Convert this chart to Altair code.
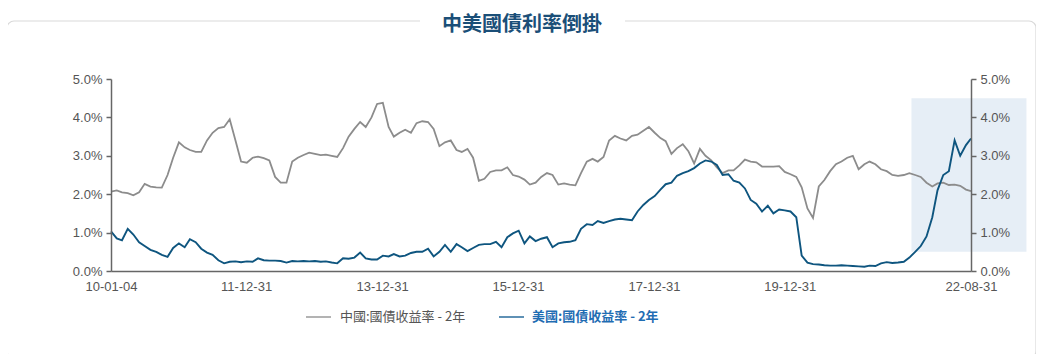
import altair as alt
import pandas as pd

# ---- data (monthly, %) ----
china = [2.07, 2.10, 2.05, 2.03, 1.97, 2.05, 2.27, 2.20, 2.18, 2.17,
         2.50, 2.95, 3.35, 3.22, 3.15, 3.10, 3.10, 3.40, 3.60, 3.72,
         3.75, 3.95, 3.40, 2.85, 2.82, 2.95, 2.98, 2.94, 2.88, 2.45,
         2.30, 2.30, 2.85, 2.95, 3.02, 3.08, 3.05, 3.02, 3.03, 3.00,
         2.97, 3.20, 3.50, 3.70, 3.88, 3.75, 4.00, 4.35, 4.38, 3.75,
         3.50, 3.60, 3.68, 3.60, 3.85, 3.90, 3.88, 3.70, 3.25, 3.35,
         3.40, 3.15, 3.10, 3.18, 2.95, 2.35, 2.40, 2.58, 2.62, 2.62,
         2.70, 2.50, 2.46, 2.38, 2.25, 2.30, 2.45, 2.55, 2.50, 2.25,
         2.28, 2.25, 2.23, 2.55, 2.85, 2.92, 2.85, 2.97, 3.40, 3.52,
         3.45, 3.40, 3.52, 3.55, 3.65, 3.75, 3.60, 3.46, 3.38, 3.05,
         3.20, 3.30, 3.12, 2.80, 3.18, 3.00, 2.88, 2.70, 2.55, 2.62,
         2.62, 2.75, 2.90, 2.85, 2.83, 2.72, 2.72, 2.72, 2.73, 2.58,
         2.52, 2.45, 2.18, 1.63, 1.38, 2.20, 2.37, 2.60, 2.78, 2.85,
         2.95, 3.00, 2.65, 2.78, 2.85, 2.78, 2.65, 2.60, 2.50, 2.48,
         2.50, 2.55, 2.50, 2.45, 2.30, 2.20, 2.28, 2.30, 2.24, 2.25,
         2.22, 2.12, 2.08]

us = [1.03, 0.85, 0.80, 1.10, 0.95, 0.75, 0.65, 0.55, 0.50, 0.42,
      0.37, 0.60, 0.72, 0.62, 0.83, 0.75, 0.58, 0.48, 0.42, 0.28,
      0.20, 0.24, 0.25, 0.23, 0.25, 0.24, 0.33, 0.28, 0.27, 0.27,
      0.26, 0.22, 0.26, 0.25, 0.26, 0.25, 0.26, 0.24, 0.25, 0.22,
      0.20, 0.33, 0.32, 0.35, 0.48, 0.33, 0.30, 0.30, 0.40, 0.38,
      0.44, 0.38, 0.40, 0.47, 0.50, 0.50, 0.58, 0.38, 0.50, 0.68,
      0.50, 0.70, 0.62, 0.52, 0.60, 0.68, 0.70, 0.70, 0.76, 0.62,
      0.88, 0.98, 1.05, 0.72, 0.90, 0.78, 0.84, 0.88, 0.62, 0.72,
      0.75, 0.76, 0.80, 1.10, 1.22, 1.20, 1.30, 1.25, 1.30, 1.34,
      1.36, 1.34, 1.32, 1.55, 1.72, 1.85, 1.95, 2.12, 2.26, 2.30,
      2.48, 2.55, 2.60, 2.68, 2.80, 2.88, 2.85, 2.76, 2.50, 2.52,
      2.35, 2.30, 2.15, 1.85, 1.75, 1.55, 1.70, 1.50, 1.60, 1.58,
      1.55, 1.40, 0.40, 0.22, 0.18, 0.17, 0.15, 0.14, 0.14, 0.15,
      0.14, 0.13, 0.12, 0.11, 0.14, 0.13, 0.20, 0.23, 0.21, 0.22,
      0.24, 0.35, 0.50, 0.65, 0.90, 1.40, 2.10, 2.50, 2.60, 3.40,
      3.00, 3.28, 3.45]

dates = [pd.Timestamp(2010, 1, 4) + pd.DateOffset(months=i) for i in range(152)] + [pd.Timestamp(2022, 8, 31)]

series_names = ["中國:國債收益率 - 2年", "美國:國債收益率 - 2年"]
x_tick_dates = [(2010, 1, 4), (2011, 12, 31), (2013, 12, 31), (2015, 12, 31),
                (2017, 12, 31), (2019, 12, 31), (2022, 8, 31)]
y_ticks = [0.0, 0.01, 0.02, 0.03, 0.04, 0.05]
highlight_x = ["2021-10-15", "2023-06-25"]
highlight_y = [0.005, 0.045]
title_text = "中美國債利率倒掛"

df_cn = pd.DataFrame({"date": dates, "value": [v / 100 for v in china]})
df_us = pd.DataFrame({"date": dates, "value": [v / 100 for v in us]})
df_hl = pd.DataFrame({"x": [pd.Timestamp(highlight_x[0])], "x2": [pd.Timestamp(highlight_x[1])],
                      "y": [highlight_y[0]], "y2": [highlight_y[1]]})

GREY = "#8c8c8c"
BLUE = "#0e557f"
FONT = "Liberation Sans"
CJK = "Noto Sans CJK TC"

x_scale = alt.Scale(domain=[alt.DateTime(year=2010, month=1, date=4),
                            alt.DateTime(year=2022, month=8, date=31)])
y_scale = alt.Scale(domain=[0, 0.05], nice=False)

x_vals = [alt.DateTime(year=a, month=b, date=c) for a, b, c in x_tick_dates]

axis_common = dict(labelFont=FONT, labelFontSize=13, labelColor="#555", domainColor="#666",
                   domainWidth=1.5, tickColor="#666", tickWidth=1.5, title=None, grid=False, zindex=1)

x_axis = alt.Axis(values=x_vals, format="%y-%m-%d", ticks=False, labelPadding=9,
                  labelFlush=False, labelOverlap=False, **axis_common)
y_left = alt.Axis(values=y_ticks, format=".1%", orient="left", tickSize=5, labelPadding=4, **axis_common)
y_right = alt.Axis(values=y_ticks, format=".1%", orient="right", tickSize=5, labelPadding=4, **axis_common)

# decoration: panel border, gap behind title, title
one = pd.DataFrame({"t": [title_text]})
border = alt.Chart(one).mark_rect(fill="transparent", stroke="#d9d9d9", strokeWidth=1.2,
                                  cornerRadius=7, clip=False).encode(
    x=alt.value(-104), x2=alt.value(925), y=alt.value(-58), y2=alt.value(279))
gap = alt.Chart(one).mark_rect(fill="white", clip=False).encode(
    x=alt.value(309), x2=alt.value(514), y=alt.value(-63), y2=alt.value(-53))
title = alt.Chart(one).mark_text(font=CJK, fontSize=20, fontWeight="bold", color="#1b4f78",
                                 align="center", baseline="middle").encode(
    x=alt.value(411), y=alt.value(-54), text="t:N")

hl = alt.Chart(df_hl).mark_rect(color="#e6eef6", clip=False).encode(
    x=alt.X("x:T", scale=x_scale, axis=None), x2="x2:T",
    y=alt.Y("y:Q", scale=y_scale, axis=None), y2="y2:Q")

line_cn = alt.Chart(df_cn).mark_line(color=GREY, strokeWidth=1.8).encode(
    x=alt.X("date:T", scale=x_scale, axis=x_axis),
    y=alt.Y("value:Q", scale=y_scale, axis=y_left))
line_us = alt.Chart(df_us).mark_line(color=BLUE, strokeWidth=1.9).encode(
    x=alt.X("date:T", scale=x_scale, axis=None),
    y=alt.Y("value:Q", scale=y_scale, axis=None))
right_axis = alt.Chart(df_us).mark_line(opacity=0).encode(
    x=alt.X("date:T", scale=x_scale, axis=None),
    y=alt.Y("value:Q", scale=y_scale, axis=y_right))

# custom legend
leg_cn = pd.DataFrame({"t": [series_names[0]]})
leg_us = pd.DataFrame({"t": [series_names[1]]})
leg_line_cn = alt.Chart(leg_cn).mark_rule(color="#9a9a9a", strokeWidth=1.5).encode(
    x=alt.value(195), x2=alt.value(220), y=alt.value(238))
leg_text_cn = alt.Chart(leg_cn).mark_text(font=CJK, fontSize=13, color="#555", align="left",
                                          baseline="middle").encode(
    x=alt.value(229), y=alt.value(238), text="t:N")
leg_line_us = alt.Chart(leg_us).mark_rule(color="#2a6c9c", strokeWidth=1.5).encode(
    x=alt.value(388), x2=alt.value(413), y=alt.value(238))
leg_text_us = alt.Chart(leg_us).mark_text(font=CJK, fontSize=13, color="#1f6db3", fontWeight="bold",
                                          align="left", baseline="middle").encode(
    x=alt.value(421), y=alt.value(238), text="t:N")

chart = alt.layer(
    border, gap, title, hl, line_cn, line_us, right_axis,
    leg_line_cn, leg_text_cn, leg_line_us, leg_text_us
).resolve_axis(x="independent", y="independent").properties(
    width=860, height=192,
    autosize=alt.AutoSizeParams(type="none"),
    padding={"left": 103, "top": 71, "right": 65, "bottom": 83},
    background="white"
).configure_view(stroke=None)

chart.save("out.html", embed_options={"renderer": "svg", "actions": False})
